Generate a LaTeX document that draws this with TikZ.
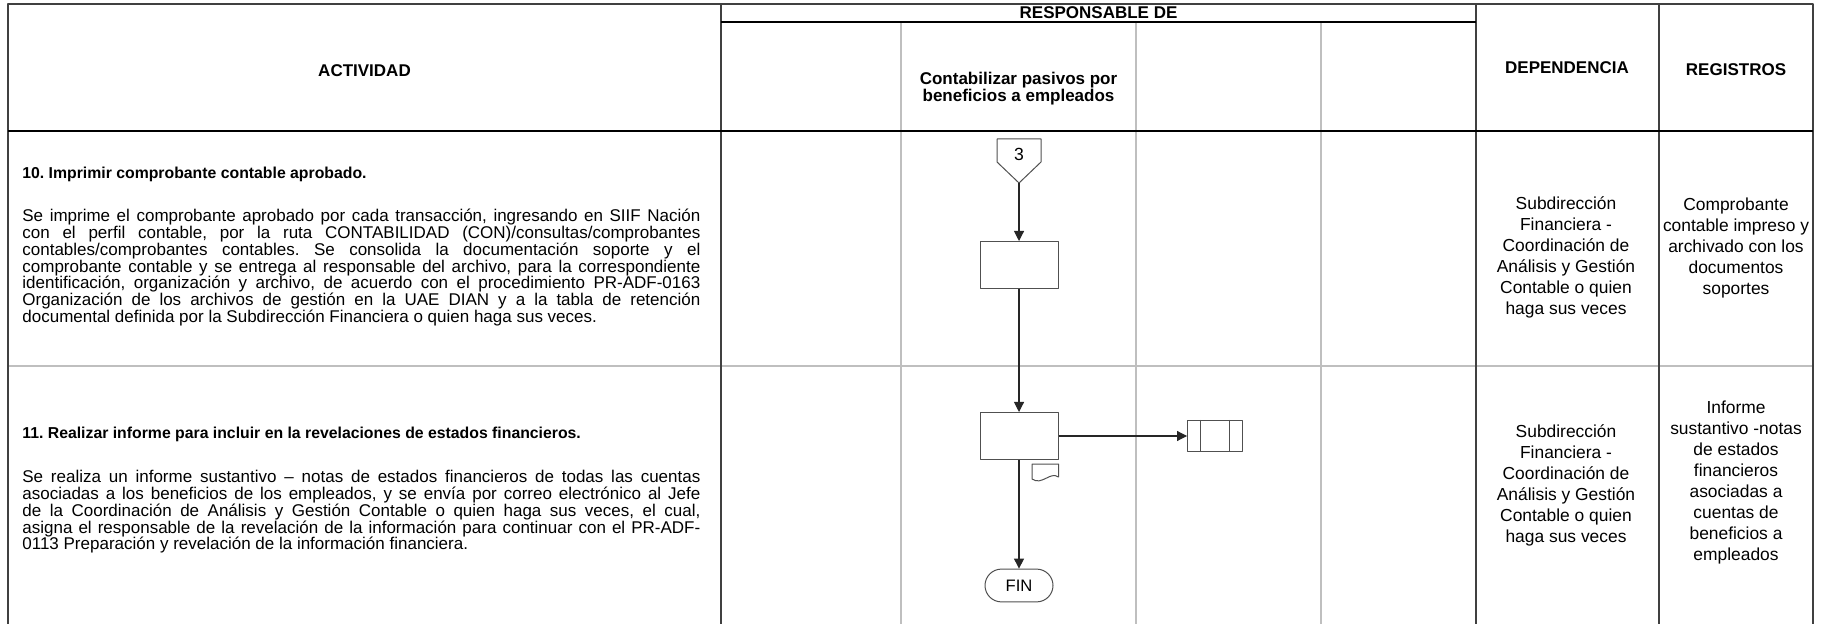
\documentclass[tikz,border=0pt]{standalone}
\usepackage{fontspec}
\setmainfont{Liberation Sans}
\usetikzlibrary{arrows.meta}
\definecolor{frameline}{HTML}{404040}
\definecolor{laneline}{HTML}{BFBFBF}
\definecolor{shapeline}{HTML}{505050}
\hyphenpenalty=10000
\exhyphenpenalty=10000
\tolerance=9999
\frenchspacing

\begin{document}
\begin{tikzpicture}[
  x=0.5pt,
  y=-0.5pt,
  line join=round,
  frame/.style={draw=frameline,line width=0.65pt},
  rule/.style={draw=black,line width=0.65pt},
  lane/.style={draw=laneline,line width=0.55pt},
  head/.style={font=\fontsize{8.5}{8.5}\selectfont\bfseries,align=center,inner sep=0pt},
  cell/.style={font=\fontsize{8.7}{10.5}\selectfont,align=center,inner sep=0pt},
  title/.style={font=\fontsize{7.9}{10}\selectfont\bfseries,anchor=base west,inner sep=0pt},
  body/.style={font=\fontsize{8.5}{8.4}\selectfont,text width=339pt,align=justify,anchor=base west,inner sep=0pt},
  symbol/.style={draw=shapeline,line width=0.5pt},
  proc/.style={symbol,minimum width=39pt,minimum height=23.5pt,inner sep=0pt},
  flow/.style={draw=black!85,line width=0.55pt,-{Triangle[length=5pt,width=5pt]}}
]
  \useasboundingbox (0,0) rectangle (1823,624);

  % Table grid: light row and lane separators first, frame on top.
  \draw[lane] (8,366) -- (1813,366);
  \foreach \xl in {901,1136,1321} {
    \draw[lane] (\xl,22) -- (\xl,624);
  }
  \draw[frame] (8,624) -- (8,4) -- (1813,4) -- (1813,624);
  \draw[frame] (721,4) -- (721,624);
  \draw[frame] (1476,4) -- (1476,624);
  \draw[frame] (1659,4) -- (1659,624);
  \draw[rule] (721,22) -- (1476,22);
  \draw[rule] (8,131) -- (1813,131);

  % Column headings.
  \node[head] (actividad) at (364.5,70.5) {ACTIVIDAD};
  \node[head] (responsable) at (1098.5,13) {RESPONSABLE DE};
  \node[head] (lanecont) at (1018.5,89) {Contabilizar pasivos por\\beneficios a empleados};
  \node[head] (dependencia) at (1567,68) {DEPENDENCIA};
  \node[head] (registros) at (1736,70) {REGISTROS};

  % Activity 10.
  \node[title] (act10) at (22,178.3) {10. Imprimir comprobante contable aprobado.};
  \node[body] (act10txt) at (22,221.7) {Se imprime el comprobante aprobado por cada transacción, ingresando en SIIF Nación\linebreak
    con el perfil contable, por la ruta CONTABILIDAD (CON)/consultas/comprobantes\linebreak
    contables/comprobantes contables. Se consolida la documentación soporte y el\linebreak
    comprobante contable y se entrega al responsable del archivo, para la correspondiente\linebreak
    identificación, organización y archivo, de acuerdo con el procedimiento PR-ADF-0163\linebreak
    Organización de los archivos de gestión en la UAE DIAN y a la tabla de retención\linebreak
    documental definida por la Subdirección Financiera o quien haga sus veces.};
  \node[cell] (dep10) at (1566,257.5) {Subdirección\\Financiera -\\Coordinación de\\Análisis y Gestión\\Contable o quien\\haga sus veces};
  \node[cell] (reg10) at (1736,248) {Comprobante\\contable impreso y\\archivado con los\\documentos\\soportes};

  % Activity 11.
  \node[title] (act11) at (22,438.5) {11. Realizar informe para incluir en la revelaciones de estados financieros.};
  \node[body] (act11txt) at (22,482.7) {Se realiza un informe sustantivo – notas de estados financieros de todas las cuentas\linebreak
    asociadas a los beneficios de los empleados, y se envía por correo electrónico al Jefe\linebreak
    de la Coordinación de Análisis y Gestión Contable o quien haga sus veces, el cual,\linebreak
    asigna el responsable de la revelación de la información para continuar con el PR-ADF-\linebreak
    0113 Preparación y revelación de la información financiera.};
  \node[cell] (dep11) at (1566,485.5) {Subdirección\\Financiera -\\Coordinación de\\Análisis y Gestión\\Contable o quien\\haga sus veces};
  \node[cell] (reg11) at (1736,483) {Informe\\sustantivo -notas\\de estados\\financieros\\asociadas a\\cuentas de\\beneficios a\\empleados};

  % Flow symbols in the lane.
  \coordinate (c3tip) at (1019,183);
  \draw[symbol] (997,139) -- (1041,139) -- (1041,162) -- (c3tip) -- (997,162) -- cycle;
  \node[font=\fontsize{8.8}{10}\selectfont,inner sep=0pt] (c3) at (1019,154) {3};
  \node[proc] (imprimir) at (1019,265) {};
  \node[proc] (informe) at (1019,436) {};
  \node[symbol,minimum width=27.5pt,minimum height=15.7pt,inner sep=0pt] (archivo) at (1215,436) {};
  \draw[symbol] ([xshift=6.9pt]archivo.north west) -- ([xshift=6.9pt]archivo.south west);
  \draw[symbol] ([xshift=-6.9pt]archivo.north east) -- ([xshift=-6.9pt]archivo.south east);
  % Document mark under the report box.
  \draw[symbol] (1032,464) -- (1058.5,464) -- (1058.5,477) .. controls (1050,471) and (1042,486) .. (1032,479) -- cycle;
  \node[symbol,rounded corners=8.2pt,minimum width=34pt,minimum height=16.4pt,inner sep=0pt,font=\fontsize{8.3}{10}\selectfont] (fin) at (1019,585.5) {FIN};

  % Connectors.
  \draw[flow] (c3tip) -- (imprimir.north);
  \draw[flow] (imprimir.south) -- (informe.north);
  \draw[flow] (informe.south) -- (fin.north);
  \draw[flow] (informe.east) -- (archivo.west);
\end{tikzpicture}
\end{document}
